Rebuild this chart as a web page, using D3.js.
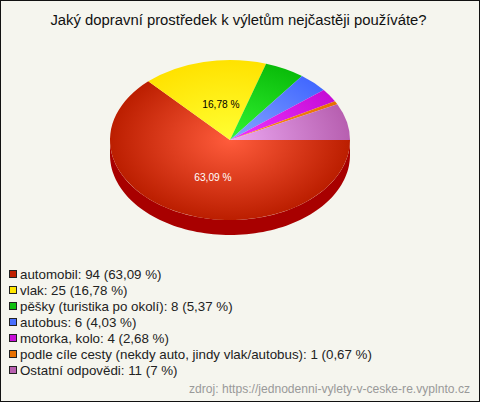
<!DOCTYPE html>
<html><head><meta charset="utf-8">
<script src="https://cdn.jsdelivr.net/npm/d3@7/dist/d3.min.js"></script>
<style>html,body{margin:0;padding:0;background:#fff}svg{display:block}text{font-family:"Liberation Sans",Arial,sans-serif}</style>
</head><body><svg id="c" width="480" height="402"></svg>
<script>
const titleText = "Jaký dopravní prostředek k výletům nejčastěji používáte?";
const sourceText = "zdroj: https://jednodenni-vylety-v-ceske-re.vyplnto.cz";
const categories = ["automobil","vlak","pěšky (turistika po okolí)","autobus","motorka, kolo","podle cíle cesty (nekdy auto, jindy vlak/autobus)","Ostatní odpovědi"];
const values = [94,25,8,6,4,1,11];
const percentLabels = ["63,09 %","16,78 %","5,37 %","4,03 %","2,68 %","0,67 %","7 %"];
const innerColors = ["#ff5c3c","#ffff33","#33f533","#86a6ff","#f035ff","#ff9020","#eca8f2"];
const outerColors = ["#bb1e00","#ffe200","#0abc0a","#4268ff","#c60cd6","#e67000","#b75fb0"];
const legendColors = ["#c02000","#ffe600","#10c010","#4a70ff","#c810d8","#e87000","#b860b0"];
const sideColor = "#a80000";

const W=480,H=402,cx=230,cy=140,rx=120,ry=80,depth=15;
const svg=d3.select("#c");
svg.append("rect").attr("x",.5).attr("y",.5).attr("width",W-1).attr("height",H-1)
  .attr("fill","#f5f5ee").attr("stroke","#111").attr("stroke-width",1);
svg.append("text").attr("x",238.5).attr("y",25).attr("text-anchor","middle")
  .attr("font-size",14.85).attr("fill","#111").text(titleText);

const defs=svg.append("defs");
values.forEach((v,i)=>{
  const g=defs.append("radialGradient").attr("id","g"+i).attr("gradientUnits","userSpaceOnUse")
    .attr("cx",0).attr("cy",0).attr("r",1);
  g.append("stop").attr("offset",0).attr("stop-color",innerColors[i]);
  g.append("stop").attr("offset",1).attr("stop-color",outerColors[i]);
});
const pie=d3.pie().sort(null).startAngle(Math.PI/2).endAngle(Math.PI/2+2*Math.PI);
const arcs=pie(values);
const unitArc=d3.arc().innerRadius(0).outerRadius(1);
const x=d3.scaleLinear().domain([-1,1]).range([cx-rx,cx+rx]);
const y=d3.scaleLinear().domain([-1,1]).range([cy-ry,cy+ry]);

// side wall
const front=d3.range(0,181,2).map(d=>d*Math.PI/180);
svg.append("path").attr("fill",sideColor).attr("d",d3.area()
  .x(a=>x(Math.cos(a))).y0(a=>y(Math.sin(a))).y1(a=>y(Math.sin(a))+depth)(front));

// top slices
const topFace=svg.append("g").attr("transform",`translate(${cx},${cy}) scale(${rx},${ry})`);
topFace.selectAll("path").data(arcs).join("path")
  .attr("d",unitArc).attr("fill",(d,i)=>`url(#g${i})`);

// labels
const labelled=[0,1];
const labelColors=["#fff","#000"];
const labelPos=[0.47,0.42];
const labelNudgeX=[5.5,2];
const labelNudgeY=[3,-3];
labelled.forEach((i,k)=>{
  const a=(arcs[i].startAngle+arcs[i].endAngle)/2-Math.PI/2;
  svg.append("text").attr("text-anchor","middle").attr("font-size",10.2)
    .attr("fill",labelColors[k])
    .attr("x",x(Math.cos(a)*labelPos[k])+labelNudgeX[k]).attr("y",y(Math.sin(a)*labelPos[k])+3.5+labelNudgeY[k])
    .text(percentLabels[i]);
});

// legend
const legend=svg.append("g").selectAll("g").data(categories).join("g")
  .attr("transform",(d,i)=>`translate(9,${269+i*16})`);
legend.append("rect").attr("x",.5).attr("y",1.5).attr("width",7).attr("height",7)
  .attr("fill",(d,i)=>legendColors[i]).attr("stroke","#222");
legend.append("text").attr("x",11).attr("y",9.5).attr("font-size",13.34).attr("fill","#222")
  .text((d,i)=>`${d}: ${values[i]} (${percentLabels[i]})`);
svg.append("text").attr("x",470).attr("y",393).attr("text-anchor","end")
  .attr("font-size",12.1).attr("fill","#999").text(sourceText);
</script></body></html>
